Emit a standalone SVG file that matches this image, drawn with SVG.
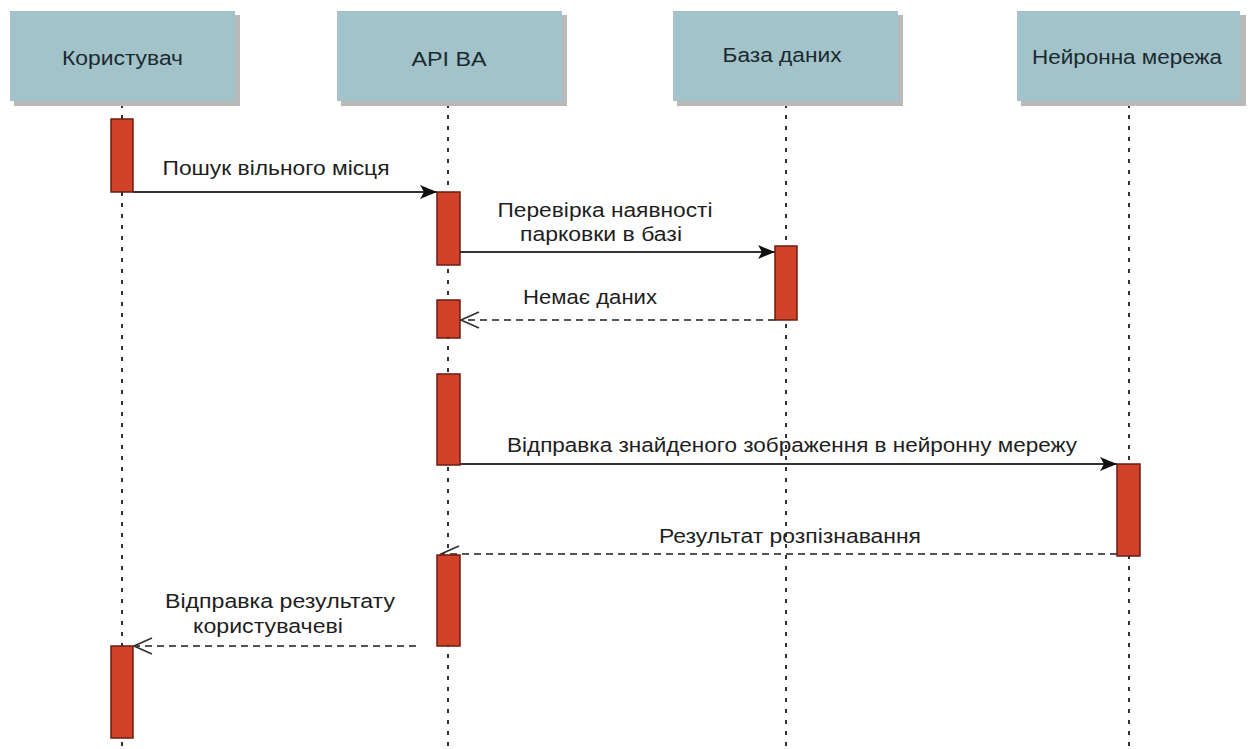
<svg xmlns="http://www.w3.org/2000/svg" width="1248" height="749" viewBox="0 0 1248 749">
  <defs>
    <marker id="solidHead" markerWidth="18" markerHeight="14" refX="17" refY="7" orient="auto" markerUnits="userSpaceOnUse">
      <path d="M0,0 L17,7 L0,14 L4,7 Z" fill="#111"/>
    </marker>
    <marker id="openHead" markerWidth="20" markerHeight="18" refX="19" refY="9" orient="auto" markerUnits="userSpaceOnUse">
      <path d="M1,1 L19,9 L1,17" fill="none" stroke="#333" stroke-width="1.6"/>
    </marker>
  </defs>
  <style>
    .shadow { fill: #b9b9b9; }
    .head { fill: #a2c3ca; }
    .title { font-family: "Liberation Sans", Arial, sans-serif; font-size: 20.5px; fill: #1b2a2e; text-anchor: middle; }
    .life { stroke: #333; stroke-width: 2; stroke-dasharray: 4 7; fill: none; }
    .act { fill: #d0432a; stroke: #6e1d12; stroke-width: 1.5; }
    .msg { stroke: #333; stroke-width: 1.8; fill: none; }
    .ret { stroke: #555; stroke-width: 1.8; stroke-dasharray: 7 5; fill: none; }
    .lbl { font-family: "Liberation Sans", Arial, sans-serif; font-size: 20.5px; fill: #1e1e1e; text-anchor: middle; }
  </style>
  <rect width="1248" height="749" fill="#fff"/>

  <!-- lifelines -->
  <g id="lifelines">
    <line class="life" x1="122" y1="104" x2="122" y2="749"/>
    <line class="life" x1="448" y1="104" x2="448" y2="749"/>
    <line class="life" x1="786" y1="104" x2="786" y2="749"/>
    <line class="life" x1="1129" y1="104" x2="1129" y2="749"/>
  </g>

  <!-- participants -->
  <g id="user">
    <rect class="shadow" x="14" y="15" width="226" height="91"/>
    <rect class="head" x="10" y="11" width="225" height="90"/>
    <text class="title" x="122.5" y="65" textLength="121" lengthAdjust="spacingAndGlyphs">Користувач</text>
  </g>
  <g id="api">
    <rect class="shadow" x="341" y="15" width="226" height="91"/>
    <rect class="head" x="337" y="11" width="225" height="90"/>
    <text class="title" x="449" y="66" textLength="75" lengthAdjust="spacingAndGlyphs">API BA</text>
  </g>
  <g id="database">
    <rect class="shadow" x="677" y="15" width="226" height="91"/>
    <rect class="head" x="673" y="11" width="225" height="90"/>
    <text class="title" x="782" y="62" textLength="119" lengthAdjust="spacingAndGlyphs">База даних</text>
  </g>
  <g id="neural">
    <rect class="shadow" x="1021" y="15" width="225" height="91"/>
    <rect class="head" x="1017" y="11" width="223" height="90"/>
    <text class="title" x="1127" y="64" textLength="190" lengthAdjust="spacingAndGlyphs">Нейронна мережа</text>
  </g>

  <!-- messages -->
  <g id="connectors">
    <line class="msg" x1="133" y1="192" x2="437" y2="192" marker-end="url(#solidHead)"/>
    <line class="msg" x1="460" y1="252" x2="775" y2="252" marker-end="url(#solidHead)"/>
    <line class="ret" x1="775" y1="320" x2="461" y2="320" marker-end="url(#openHead)"/>
    <line class="msg" x1="460" y1="464" x2="1117" y2="464" marker-end="url(#solidHead)"/>
    <line class="ret" x1="1117" y1="554" x2="441" y2="554" marker-end="url(#openHead)"/>
    <line class="ret" x1="416" y1="646" x2="134" y2="646" marker-end="url(#openHead)"/>
  </g>

  <!-- activation bars -->
  <g id="activations">
    <rect class="act" x="111" y="119" width="22" height="73"/>
    <rect class="act" x="437" y="192" width="23" height="73"/>
    <rect class="act" x="775" y="246" width="22" height="74"/>
    <rect class="act" x="437" y="300" width="23" height="38"/>
    <rect class="act" x="437" y="374" width="23" height="91"/>
    <rect class="act" x="1117" y="464" width="23" height="92"/>
    <rect class="act" x="437" y="555" width="23" height="91"/>
    <rect class="act" x="111" y="646" width="22" height="92"/>
  </g>

  <!-- message labels -->
  <g id="labels">
    <text class="lbl" x="276" y="175" textLength="227" lengthAdjust="spacingAndGlyphs">Пошук вільного місця</text>
    <text class="lbl" x="605" y="217" textLength="215" lengthAdjust="spacingAndGlyphs">Перевірка наявності</text>
    <text class="lbl" x="601" y="241" textLength="162" lengthAdjust="spacingAndGlyphs">парковки в базі</text>
    <text class="lbl" x="590" y="304" textLength="134" lengthAdjust="spacingAndGlyphs">Немає даних</text>
    <text class="lbl" x="792" y="452" textLength="570" lengthAdjust="spacingAndGlyphs">Відправка знайденого зображення в нейронну мережу</text>
    <text class="lbl" x="790" y="543" textLength="262" lengthAdjust="spacingAndGlyphs">Результат розпізнавання</text>
    <text class="lbl" x="280" y="608" textLength="230" lengthAdjust="spacingAndGlyphs">Відправка результату</text>
    <text class="lbl" x="268" y="633" textLength="150" lengthAdjust="spacingAndGlyphs">користувачеві</text>
  </g>
</svg>
